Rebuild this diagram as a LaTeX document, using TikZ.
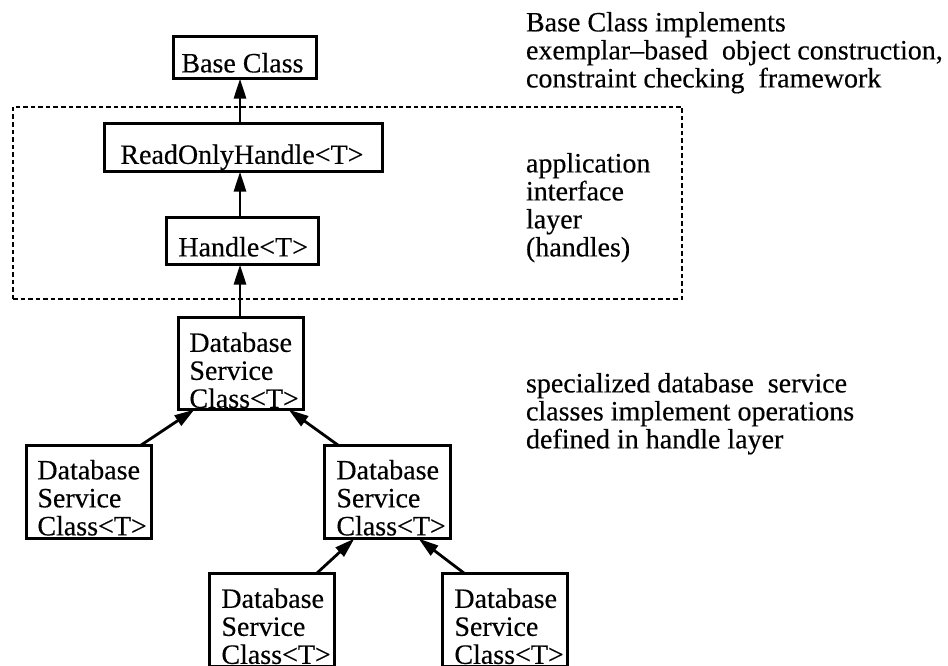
\documentclass[tikz,border=0pt]{standalone}
\usepackage{fontspec}
\setmainfont{Liberation Serif}[FakeBold=0.35]
\usetikzlibrary{arrows.meta,calc}
\begin{document}
\begin{tikzpicture}[x=1pt,y=-1pt,
  every node/.style={inner sep=0pt, outer sep=0pt},
  box/.style={draw, line width=2.8pt},
  txt/.style={font=\fontsize{28}{28}\selectfont, align=left},
  arr/.style={line width=2.8pt, -{Triangle[length=20pt,width=12pt]}},
  layerbox/.style={draw, line width=2.2pt, dash pattern=on 4.5pt off 3pt}]
\useasboundingbox (0,0) rectangle (948,666);
\clip (0,0) rectangle (948,666);

% dashed layer
\node[layerbox, minimum width=669pt, minimum height=192pt] (layer) at (347.5,203) {};

% boxes
\node[box, minimum width=143.2pt, minimum height=42.2pt] (base) at (245,57.5) {};
\node[box, minimum width=278.2pt, minimum height=48.2pt] (ro) at (243.5,147.5) {};
\node[box, minimum width=152.2pt, minimum height=47.2pt] (handle) at (242.5,241) {};
\node[box, minimum width=125.2pt, minimum height=92.2pt] (db1) at (241,363.5) {};
\node[box, minimum width=125.2pt, minimum height=93.2pt] (dbl) at (89,492) {};
\node[box, minimum width=126.2pt, minimum height=93.2pt] (dbr) at (387.5,492) {};
\node[box, minimum width=125.2pt, minimum height=93.2pt] (dbbl) at (272,620) {};
\node[box, minimum width=125.2pt, minimum height=93.2pt] (dbbr) at (505,620) {};

% box texts
\node[txt, anchor=base west] (tbase) at ($(base.north west)+(8,36)$) {Base Class};
\node[txt, anchor=base west] (tro) at ($(ro.north west)+(16,40.5)$) {ReadOnlyHandle<T>};
\node[txt, anchor=base west] (thandle) at ($(handle.north west)+(12,39)$) {Handle<T>};
\node[txt, anchor=north west] (tdb1) at ($(db1.north west)+(11,15)$) {Database\\Service\\Class<T>};
\node[txt, anchor=north west] (tdbl) at ($(dbl.north west)+(11,14.5)$) {Database\\Service\\Class<T>};
\node[txt, anchor=north west] (tdbr) at ($(dbr.north west)+(12,14.5)$) {Database\\Service\\Class<T>};
\node[txt, anchor=north west] (tdbbl) at ($(dbbl.north west)+(12,15)$) {Database\\Service\\Class<T>};
\node[txt, anchor=north west] (tdbbr) at ($(dbbr.north west)+(12,15)$) {Database\\Service\\Class<T>};

% side notes
\node[txt, anchor=north west] (note1) at (526,12) {Base Class implements\\exemplar–based\ \ object construction,\\constraint checking\ \ framework};
\node[txt, anchor=north west] (note2) at (526,153) {application\\interface\\layer\\(handles)};
\node[txt, anchor=north west] (note3) at (526,373) {specialized database\ \ service\\classes implement operations\\defined in handle layer};

% connectors
\coordinate (axis) at (240,0);
\draw[arr] (ro.north -| axis) -- (base.south -| axis);
\draw[arr] (handle.north -| axis) -- (ro.south -| axis);
\draw[arr] (db1.north -| axis) -- (handle.south -| axis);
\draw[arr] ($(dbl.north east)+(-11,0)$) -- ($(db1.south west)+(16,0)$);
\draw[arr] ($(dbr.north west)+(14,0)$) -- ($(db1.south east)+(-15,0)$);
\draw[arr] ($(dbbl.north east)+(-18,0)$) -- ($(dbr.south west)+(30,0)$);
\draw[arr] ($(dbbr.north west)+(22,0)$) -- ($(dbr.south east)+(-32,0)$);
\end{tikzpicture}
\end{document}
